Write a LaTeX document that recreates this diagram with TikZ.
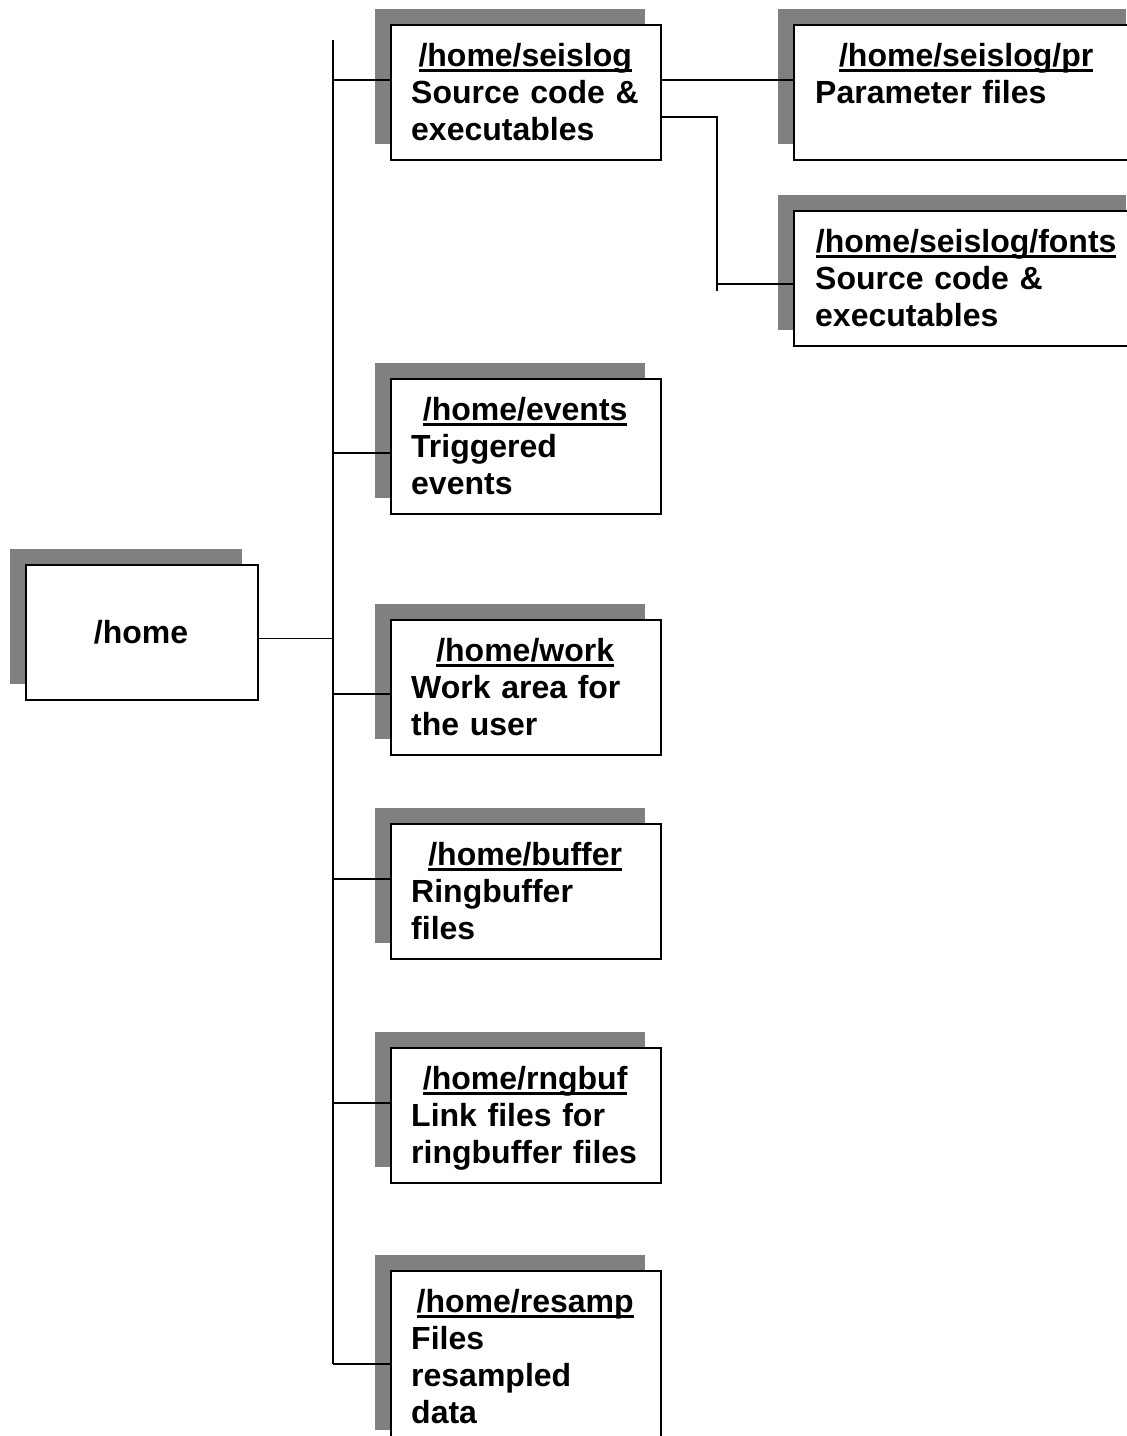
\documentclass[tikz,border=0pt]{standalone}
\usepackage{fontspec}
\setmainfont{Liberation Sans}
\usetikzlibrary{shadows}
\definecolor{sgray}{RGB}{128,128,128}
\newcommand\dirtitle[1]{\makebox[\linewidth]{\setbox0\hbox{#1}\rlap{\rule[-6pt]{\wd0}{3.2pt}}\box0}}
\begin{document}
\begin{tikzpicture}[x=1pt,y=-1pt,
  dirbox/.style={draw, line width=1.8pt, fill=white, anchor=north west,
    minimum width=270pt, minimum height=135pt, inner sep=0,
    drop shadow={shadow xshift=-16pt, shadow yshift=16pt, opacity=1, fill=sgray, draw=none}},
  wide/.style={minimum width=348pt},
  dirtext/.style={anchor=base west, inner sep=0, text width=228pt, align=left,
    font=\fontsize{32}{37}\selectfont\bfseries},
  widetext/.style={text width=302pt},
  link/.style={line width=1.3pt}]
\useasboundingbox (0,0) rectangle (1127,1436);
\clip (0,0) rectangle (1127,1436);

% boxes
\node[dirbox, minimum width=232pt] (home) at (25,564) {};
\node[dirbox] (seislog) at (390,24) {};
\node[dirbox, wide] (pr) at (793,24) {};
\node[dirbox, wide] (fonts) at (793,210) {};
\node[dirbox] (events) at (390,378) {};
\node[dirbox] (work) at (390,619) {};
\node[dirbox] (buffer) at (390,823) {};
\node[dirbox] (rngbuf) at (390,1047) {};
\node[dirbox, minimum height=175pt] (resamp) at (390,1270) {};

% texts
\node[anchor=base, inner sep=0, font=\fontsize{32}{37}\selectfont\bfseries] (thome) at (141,643) {/home};
\node[dirtext] (tseislog) at (411,66) {\dirtitle{/home/seislog}\\Source code \&\\executables};
\node[dirtext, widetext] (tpr) at (815,66) {\dirtitle{/home/seislog/pr}\\Parameter files};
\node[dirtext, widetext] (tfonts) at (815,252) {\dirtitle{/home/seislog/fonts}\\Source code \&\\executables};
\node[dirtext] (tevents) at (411,420) {\dirtitle{/home/events}\\Triggered\\events};
\node[dirtext] (twork) at (411,661) {\dirtitle{/home/work}\\Work area for\\the user};
\node[dirtext] (tbuffer) at (411,865) {\dirtitle{/home/buffer}\\Ringbuffer\\files};
\node[dirtext] (trngbuf) at (411,1089) {\dirtitle{/home/rngbuf}\\Link files for\\ringbuffer files};
\node[dirtext] (tresamp) at (411,1312) {\dirtitle{/home/resamp}\\Files\\resampled\\data};

% trunk
\coordinate (trunktop) at (333,40);
\coordinate (bseis) at ([yshift=-56pt]seislog.north west);
\coordinate (bevents) at ([yshift=-75pt]events.north west);
\coordinate (bwork) at ([yshift=-75pt]work.north west);
\coordinate (bbuffer) at ([yshift=-56pt]buffer.north west);
\coordinate (brngbuf) at ([yshift=-56pt]rngbuf.north west);
\coordinate (bresamp) at ([yshift=-94pt]resamp.north west);
\coordinate (bhome) at ([yshift=-6pt]home.east);

\draw[link] (trunktop) -- (bresamp -| trunktop);
\draw[link] (bhome) -- (bhome -| trunktop);
\draw[link] (bseis) -- (bseis -| trunktop);
\draw[link] (bevents) -- (bevents -| trunktop);
\draw[link] (bwork) -- (bwork -| trunktop);
\draw[link] (bbuffer) -- (bbuffer -| trunktop);
\draw[link] (brngbuf) -- (brngbuf -| trunktop);
\draw[link] (bresamp) -- (bresamp -| trunktop);

% seislog sub-branches
\draw[link] ([yshift=-56pt]seislog.north east) -- ([yshift=-56pt]pr.north west);
\coordinate (elbow) at ([xshift=-76pt, yshift=-81pt]fonts.north west);
\draw[link] ([yshift=-93pt]seislog.north east) -| (elbow);
\draw[link] ([yshift=-74pt]fonts.north west) -- ([yshift=-74pt]fonts.north west -| elbow);
\end{tikzpicture}
\end{document}
